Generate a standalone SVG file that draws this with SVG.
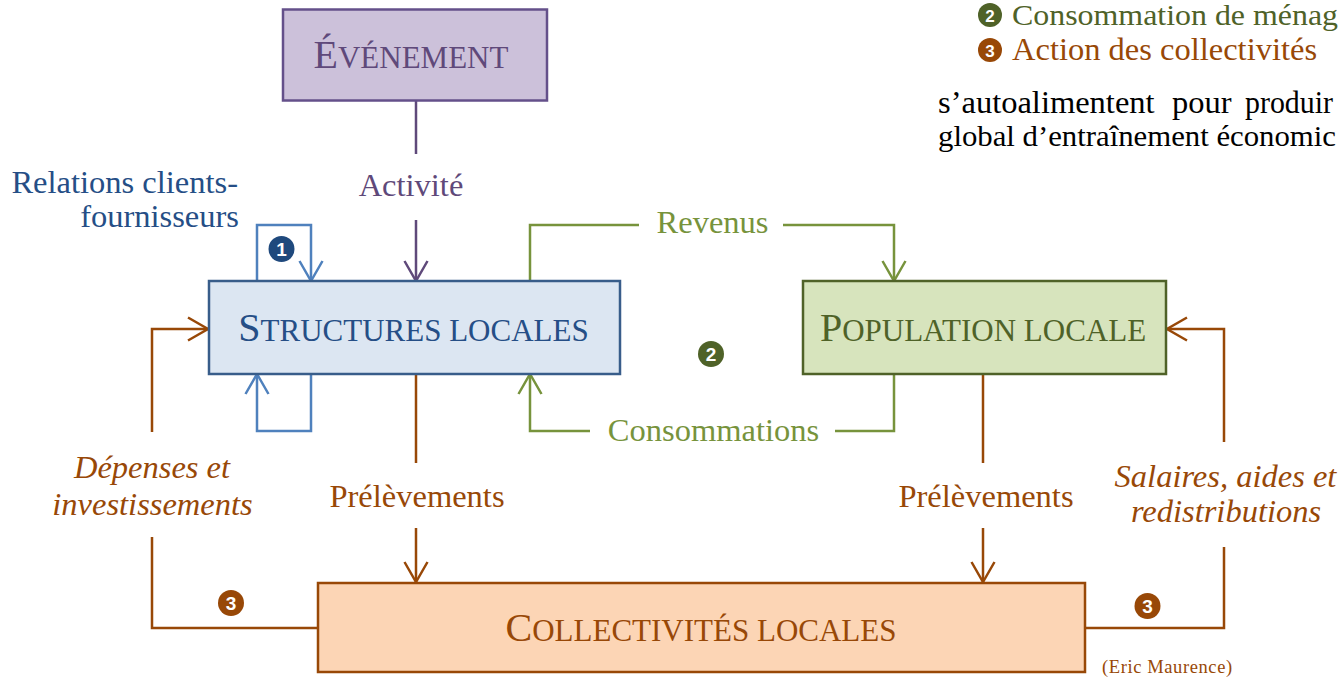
<svg xmlns="http://www.w3.org/2000/svg" width="1343" height="677" viewBox="0 0 1343 677">
<style>
.serif{font-family:"Liberation Serif","Times New Roman",serif;}
.lbl{font-family:"Liberation Serif","Times New Roman",serif;font-size:32.5px;}
.it{font-style:italic;}
.box{stroke-width:2.5;}
.big{font-size:40px;}
.sm{font-size:31px;}
.con{fill:none;stroke-width:2.5;}
.num{font-family:"Liberation Sans",Arial,sans-serif;font-weight:bold;font-size:19px;fill:#ffffff;text-anchor:middle;}
.purple{stroke:#5f497a;}
.blue{stroke:#4f81bd;}
.green{stroke:#77933c;}
.brown{stroke:#984807;}
</style>
<defs>
<marker id="aPurple" markerUnits="userSpaceOnUse" viewBox="-1 -14 24 28" refX="20" refY="0" markerWidth="24" markerHeight="28" orient="auto"><path d="M0,-11.5 L20,0 L0,11.5" fill="none" stroke="#5f497a" stroke-width="2.5"/></marker>
<marker id="aBlue" markerUnits="userSpaceOnUse" viewBox="-1 -14 24 28" refX="20" refY="0" markerWidth="24" markerHeight="28" orient="auto"><path d="M0,-11.5 L20,0 L0,11.5" fill="none" stroke="#4f81bd" stroke-width="2.5"/></marker>
<marker id="aGreen" markerUnits="userSpaceOnUse" viewBox="-1 -14 24 28" refX="20" refY="0" markerWidth="24" markerHeight="28" orient="auto"><path d="M0,-11.5 L20,0 L0,11.5" fill="none" stroke="#77933c" stroke-width="2.5"/></marker>
<marker id="aBrown" markerUnits="userSpaceOnUse" viewBox="-1 -14 24 28" refX="20" refY="0" markerWidth="24" markerHeight="28" orient="auto"><path d="M0,-11.5 L20,0 L0,11.5" fill="none" stroke="#984807" stroke-width="2.5"/></marker>
</defs>
<rect width="1343" height="677" fill="#ffffff"/>

<g id="connectors">
<path class="con purple" d="M416,101 V154"/>
<path class="con purple" d="M416,220 V281" marker-end="url(#aPurple)"/>
<path class="con blue" d="M257,281 V225 H311 V281" marker-end="url(#aBlue)"/>
<path class="con blue" d="M311,374 V431 H257 V374" marker-end="url(#aBlue)"/>
<path class="con green" d="M530,281 V225 H639"/>
<path class="con green" d="M783,225 H894 V281" marker-end="url(#aGreen)"/>
<path class="con green" d="M894,374 V431 H835"/>
<path class="con green" d="M590,431 H530 V374" marker-end="url(#aGreen)"/>
<path class="con brown" d="M416,374 V463"/>
<path class="con brown" d="M416,528 V582" marker-end="url(#aBrown)"/>
<path class="con brown" d="M983,374 V463"/>
<path class="con brown" d="M983,528 V582" marker-end="url(#aBrown)"/>
<path class="con brown" d="M318,628 H152 V537"/>
<path class="con brown" d="M152,432 V329 H208" marker-end="url(#aBrown)"/>
<path class="con brown" d="M1085,628 H1224 V547"/>
<path class="con brown" d="M1224,442 V329 H1167" marker-end="url(#aBrown)"/>
<text class="lbl" x="411" y="196" text-anchor="middle" fill="#5f497a">Activité</text>
<text class="lbl" x="238" y="193" text-anchor="end" fill="#254e86">Relations clients-</text>
<text class="lbl" x="239" y="227" text-anchor="end" fill="#254e86">fournisseurs</text>
<text class="lbl" x="712.5" y="233" text-anchor="middle" fill="#77933c">Revenus</text>
<text class="lbl" x="713.5" y="441" text-anchor="middle" fill="#77933c">Consommations</text>
<text class="lbl" x="417" y="507" text-anchor="middle" fill="#984807">Prélèvements</text>
<text class="lbl" x="986" y="507" text-anchor="middle" fill="#984807">Prélèvements</text>
<text class="lbl it" x="152" y="478" text-anchor="middle" fill="#984807">Dépenses et</text>
<text class="lbl it" x="152.5" y="515" text-anchor="middle" fill="#984807">investissements</text>
<text class="lbl it" x="1225.5" y="487" text-anchor="middle" fill="#984807">Salaires, aides et</text>
<text class="lbl it" x="1226" y="522" text-anchor="middle" fill="#984807">redistributions</text>
<circle cx="281.5" cy="249" r="13" fill="#1f497d"/>
<text class="num" x="281.5" y="256">1</text>
<circle cx="711" cy="354" r="13" fill="#4f6228"/>
<text class="num" x="711" y="361">2</text>
<circle cx="231" cy="603" r="13" fill="#984807"/>
<text class="num" x="231" y="610">3</text>
<circle cx="1147.5" cy="606" r="13" fill="#984807"/>
<text class="num" x="1147.5" y="613">3</text>
</g>

<g id="evenement">
<rect class="box" x="283" y="9.5" width="264" height="91" fill="#ccc1da" stroke="#64508a"/>
<text class="serif" x="411" y="68" text-anchor="middle" fill="#5f497a"><tspan class="big">É</tspan><tspan class="sm">VÉNEMENT</tspan></text>
</g>

<g id="structures">
<rect class="box" x="209" y="281" width="411" height="93" fill="#dce6f2" stroke="#385d8a"/>
<text class="serif" x="413.5" y="341" text-anchor="middle" fill="#254e86"><tspan class="big">S</tspan><tspan class="sm">TRUCTURES LOCALES</tspan></text>
</g>

<g id="population">
<rect class="box" x="803" y="281" width="363" height="93" fill="#d7e4bd" stroke="#4f6228"/>
<text class="serif" x="983" y="341" text-anchor="middle" fill="#4f6228"><tspan class="big">P</tspan><tspan class="sm">OPULATION LOCALE</tspan></text>
</g>

<g id="collectivites">
<rect class="box" x="318" y="583" width="767" height="89" fill="#fcd5b5" stroke="#984807"/>
<text class="serif" x="701" y="641" text-anchor="middle" fill="#984807"><tspan class="big">C</tspan><tspan class="sm">OLLECTIVITÉS LOCALES</tspan></text>
</g>

<g id="legend">
<circle cx="990" cy="15" r="12" fill="#4f6228"/>
<text class="num" x="990" y="21.5" style="font-size:17px">2</text>
<text class="lbl" x="1012" y="25" fill="#4f6228" style="font-size:30px" textLength="326" lengthAdjust="spacingAndGlyphs">Consommation de ménag</text>
<circle cx="990" cy="50" r="12" fill="#984807"/>
<text class="num" x="990" y="56.5" style="font-size:17px">3</text>
<text class="lbl" x="1012" y="60" fill="#984807">Action des collectivités</text>
<text class="lbl" x="938" y="113" fill="#000000">s’autoalimentent</text>
<text class="lbl" x="1172" y="113" fill="#000000">pour</text>
<text class="lbl" x="1245" y="113" fill="#000000" textLength="88" lengthAdjust="spacingAndGlyphs">produir</text>
<text class="lbl" x="938" y="146" fill="#000000" style="font-size:30px" textLength="398" lengthAdjust="spacingAndGlyphs">global d’entraînement économic</text>
<text class="serif" x="1102" y="673" font-size="18.5" letter-spacing="0.6" fill="#984807">(Eric Maurence)</text>
</g>
</svg>
